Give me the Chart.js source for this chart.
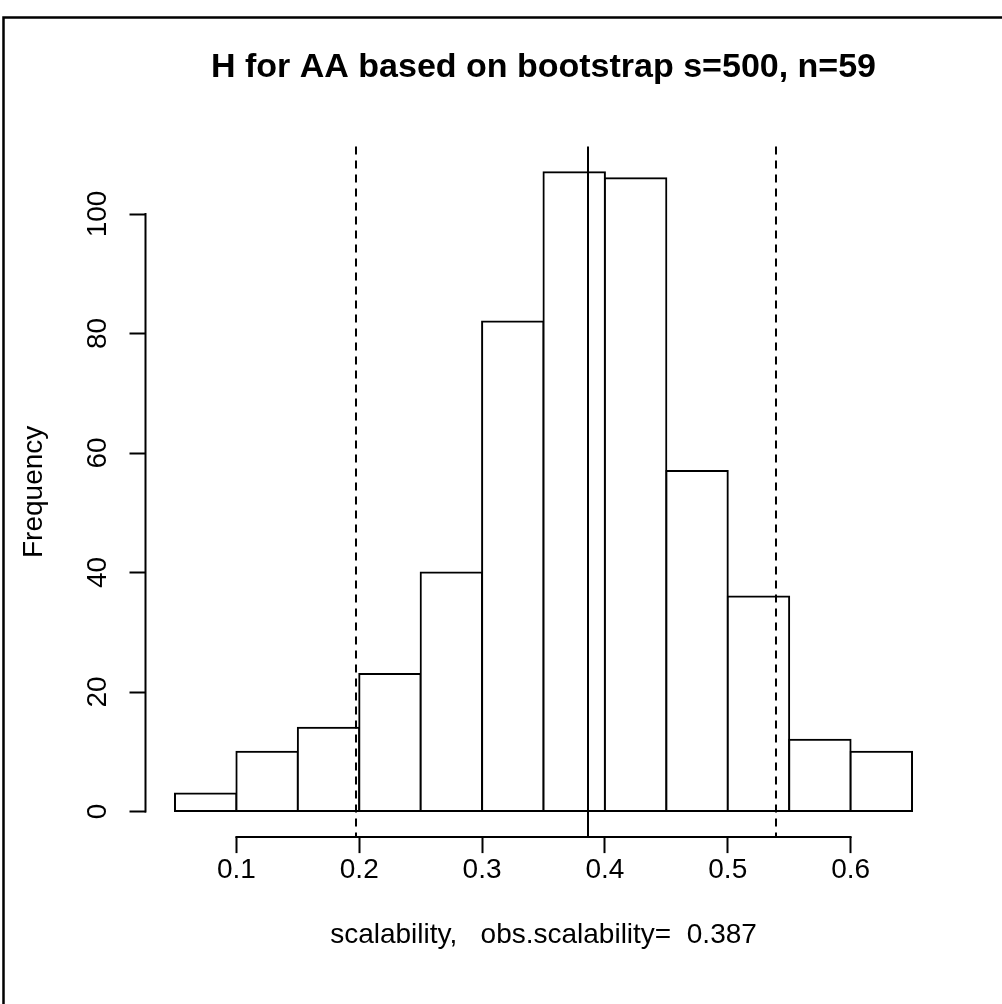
<!DOCTYPE html>
<html>
<head>
<meta charset="utf-8">
<title>Bootstrap distribution of H</title>
<script src="https://cdn.jsdelivr.net/npm/chart.js@4/dist/chart.umd.min.js"></script>
<style>
  html, body { margin: 0; padding: 0; background: #ffffff; }
  #wrap { position: relative; width: 1002px; height: 1004px; }
</style>
</head>
<body>
<div id="wrap"><canvas id="hist" width="1002" height="1004"></canvas></div>
<script>
// Histogram bins (left edges) and bootstrap frequencies
const binStarts = [0.05, 0.10, 0.15, 0.20, 0.25, 0.30, 0.35, 0.40, 0.45, 0.50, 0.55, 0.60];
const binWidth = 0.05;
const frequencies = [3, 10, 14, 23, 40, 82, 107, 106, 57, 36, 12, 10];

// Axis ticks
const xTicks = [0.1, 0.2, 0.3, 0.4, 0.5, 0.6];
const xTickLabels = ['0.1', '0.2', '0.3', '0.4', '0.5', '0.6'];
const yTicks = [0, 20, 40, 60, 80, 100];

// Reference lines: percentile interval (dashed) and observed value (solid)
const intervalBounds = [0.1977, 0.5395];
const observedValue = 0.3866;

const titleText = 'H for AA based on bootstrap s=500, n=59';
const xTitle = 'scalability,   obs.scalability=  0.387';
const yTitle = 'Frequency';

const FONT = "'Liberation Sans', Arial, Helvetica, sans-serif";
const TEXT_SIZE = 28;

// R-style plot range: data range extended by 4% on each side
const xLo = binStarts[0], xHi = binStarts[binStarts.length - 1] + binWidth;
const xPad = (xHi - xLo) * 0.04;
const yHi = Math.max(...frequencies);
const yPad = yHi * 0.04;

const points = binStarts.map((s, i) => ({ x: s + binWidth / 2, y: frequencies[i] }));

const W = 1002, H = 1004;
const plotLeft = 145.5, plotRight = 941.5, plotTop = 146.6, plotBottom = 837.1;

// Page background, figure frame, R-style axis lines and reference lines
const decor = {
  id: 'decor',
  beforeDraw(chart) {
    const ctx = chart.ctx;
    ctx.save();
    ctx.fillStyle = '#ffffff';
    ctx.fillRect(0, 0, W, H);
    ctx.strokeStyle = '#000000';
    ctx.lineWidth = 2.5;
    ctx.beginPath();
    ctx.moveTo(3.5, H);
    ctx.lineTo(3.5, 17.5);
    ctx.lineTo(W, 17.5);
    ctx.stroke();
    ctx.restore();
  },
  afterDatasetsDraw(chart) {
    const ctx = chart.ctx;
    const xs = chart.scales.x, ys = chart.scales.y;
    const area = chart.chartArea;
    ctx.save();
    ctx.strokeStyle = '#000000';
    ctx.lineWidth = 2;
    ctx.setLineDash([8, 6]);
    intervalBounds.forEach(v => {
      const px = Math.round(xs.getPixelForValue(v));
      ctx.beginPath();
      ctx.moveTo(px, area.top);
      ctx.lineTo(px, area.bottom);
      ctx.stroke();
    });
    ctx.setLineDash([]);
    const po = Math.round(xs.getPixelForValue(observedValue));
    ctx.beginPath();
    ctx.moveTo(po, area.top);
    ctx.lineTo(po, area.bottom);
    ctx.stroke();

    // axis lines spanning first to last tick
    ctx.beginPath();
    ctx.moveTo(xs.getPixelForValue(xTicks[0]) - 1, area.bottom);
    ctx.lineTo(xs.getPixelForValue(xTicks[xTicks.length - 1]) + 1, area.bottom);
    ctx.moveTo(area.left, ys.getPixelForValue(yTicks[0]) + 1);
    ctx.lineTo(area.left, ys.getPixelForValue(yTicks[yTicks.length - 1]) - 1);
    ctx.stroke();
    ctx.restore();
  }
};

new Chart(document.getElementById('hist'), {
  type: 'bar',
  data: {
    datasets: [{
      data: points,
      backgroundColor: '#ffffff',
      borderColor: '#000000',
      borderWidth: 2,
      borderSkipped: false,
      inflateAmount: 1,
      barPercentage: 1,
      categoryPercentage: 1
    }]
  },
  options: {
    responsive: false,
    animation: false,
    devicePixelRatio: 1,
    layout: { padding: { left: 0, right: W - plotRight, top: 0, bottom: 0 } },
    plugins: {
      legend: { display: false },
      tooltip: { enabled: false },
      title: {
        display: true,
        text: titleText,
        fullSize: false,
        color: '#000000',
        font: { family: FONT, size: 34, weight: 'bold', lineHeight: 1.2 },
        padding: { top: 47, bottom: 58.8 }
      }
    },
    scales: {
      x: {
        type: 'linear',
        offset: false,
        min: xLo - xPad,
        max: xHi + xPad,
        afterBuildTicks: s => { s.ticks = xTicks.map(v => ({ value: v })); },
        afterFit: s => { s.height = H - plotBottom; },
        grid: { display: true, offset: false, drawOnChartArea: false, drawTicks: true, tickLength: 16, tickColor: '#000000', tickWidth: 2 },
        border: { display: false },
        ticks: {
          color: '#000000',
          font: { family: FONT, size: TEXT_SIZE, lineHeight: 1.2 },
          padding: 0,
          maxRotation: 0,
          autoSkip: false,
          callback: (v, i) => xTickLabels[i]
        },
        title: {
          display: true,
          text: xTitle,
          color: '#000000',
          font: { family: FONT, size: TEXT_SIZE, lineHeight: 1.2 },
          padding: { top: 0, bottom: 52.2 }
        }
      },
      y: {
        type: 'linear',
        min: -yPad,
        max: yHi + yPad,
        afterBuildTicks: s => { s.ticks = yTicks.map(v => ({ value: v })); },
        afterFit: s => { s.width = plotLeft; },
        grid: { display: true, drawOnChartArea: false, drawTicks: true, tickLength: 16, tickColor: '#000000', tickWidth: 2 },
        border: { display: false },
        ticks: {
          color: '#000000',
          font: { family: FONT, size: TEXT_SIZE, lineHeight: 1.2 },
          minRotation: 90,
          maxRotation: 90,
          crossAlign: 'center',
          padding: 8,
          autoSkip: false,
          callback: v => String(v)
        },
        title: {
          display: true,
          text: yTitle,
          color: '#000000',
          font: { family: FONT, size: TEXT_SIZE, lineHeight: 1.2 },
          padding: { top: 17, bottom: 0 }
        }
      }
    }
  },
  plugins: [decor]
});
</script>
</body>
</html>
